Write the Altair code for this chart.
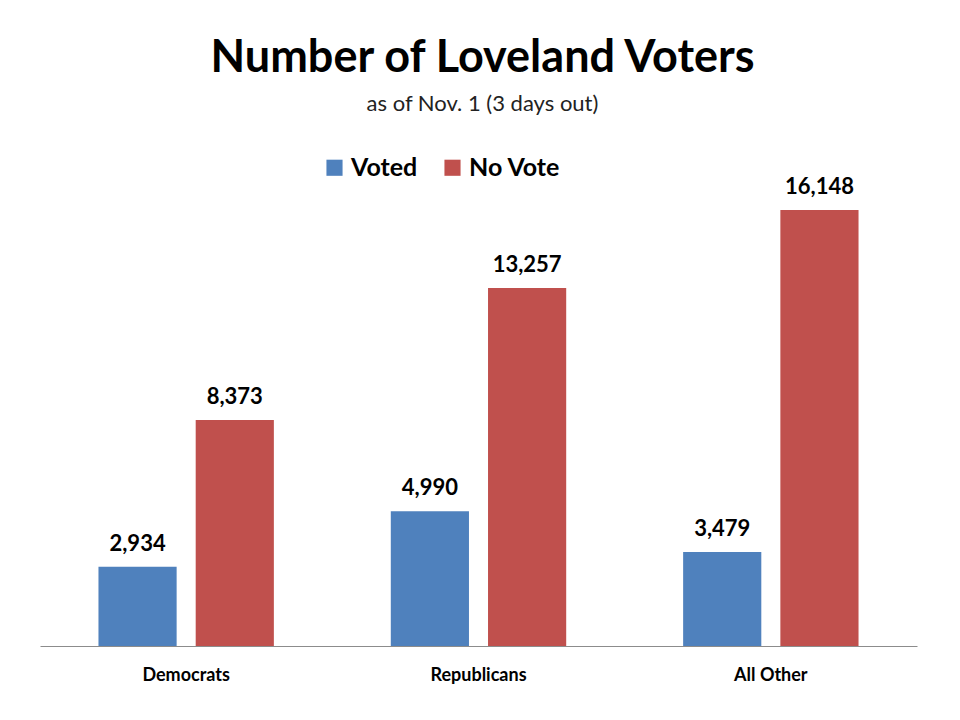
import altair as alt
import pandas as pd

categories = ["Democrats", "Republicans", "All Other"]
series = ["Voted", "No Vote"]
voted = [2934, 4990, 3479]
no_vote = [8373, 13257, 16148]

rows = []
for i, c in enumerate(categories):
    rows.append({"party": c, "status": "Voted", "count": voted[i]})
    rows.append({"party": c, "status": "No Vote", "count": no_vote[i]})
df = pd.DataFrame(rows)

FONT = "Lato"

x = alt.X("party:N", sort=categories, title=None,
          scale=alt.Scale(paddingInner=0.4, paddingOuter=0.2),
          axis=alt.Axis(labelAngle=0, labelFont=FONT, labelFontSize=18, labelFontWeight="bold",
                        labelColor="#000000", ticks=False, domainColor="#8c8c8c", domainWidth=1,
                        labelPadding=20))
xo = alt.XOffset("status:N", sort=series, scale=alt.Scale(paddingInner=0.196, paddingOuter=0))
y = alt.Y("count:Q", scale=alt.Scale(domain=[0, 18000], nice=False), axis=None)

bars = alt.Chart(df).mark_bar().encode(
    x=x, xOffset=xo, y=y,
    color=alt.Color("status:N", sort=series,
                    scale=alt.Scale(domain=series, range=["#4F81BD", "#C0504D"]),
                    legend=alt.Legend(title=None, orient="none", direction="horizontal",
                                      legendX=282, legendY=-5, symbolType="square",
                                      symbolSize=260, symbolStrokeWidth=0, symbolOpacity=1,
                                      labelFont=FONT, labelFontSize=25, labelFontWeight="bold",
                                      labelColor="#000000", columnPadding=22, labelOffset=4)),
)

labels = alt.Chart(df).mark_text(dy=-11, baseline="bottom", font=FONT, fontSize=22,
                                 fontWeight="bold", color="#000000").encode(
    x=x, xOffset=xo, y=y, text=alt.Text("count:Q", format=",")
)

chart = (bars + labels).properties(
    width=877, height=486,
    padding={"left": 32, "top": 152, "right": 10, "bottom": 40},
    autosize=alt.AutoSizeParams(type="none"),
    title=alt.TitleParams("Number of Loveland Voters", subtitle="as of Nov. 1 (3 days out)",
                          font=FONT, fontSize=45, fontWeight="bold", color="#000000",
                          subtitleFont=FONT, subtitleFontSize=22, subtitleColor="#222222",
                          subtitlePadding=13, anchor="middle", offset=40, dx=4),
).configure(background="#ffffff").configure_view(strokeWidth=0, stroke=None)

chart.save("out.html", embed_options={"renderer": "svg", "actions": False})
